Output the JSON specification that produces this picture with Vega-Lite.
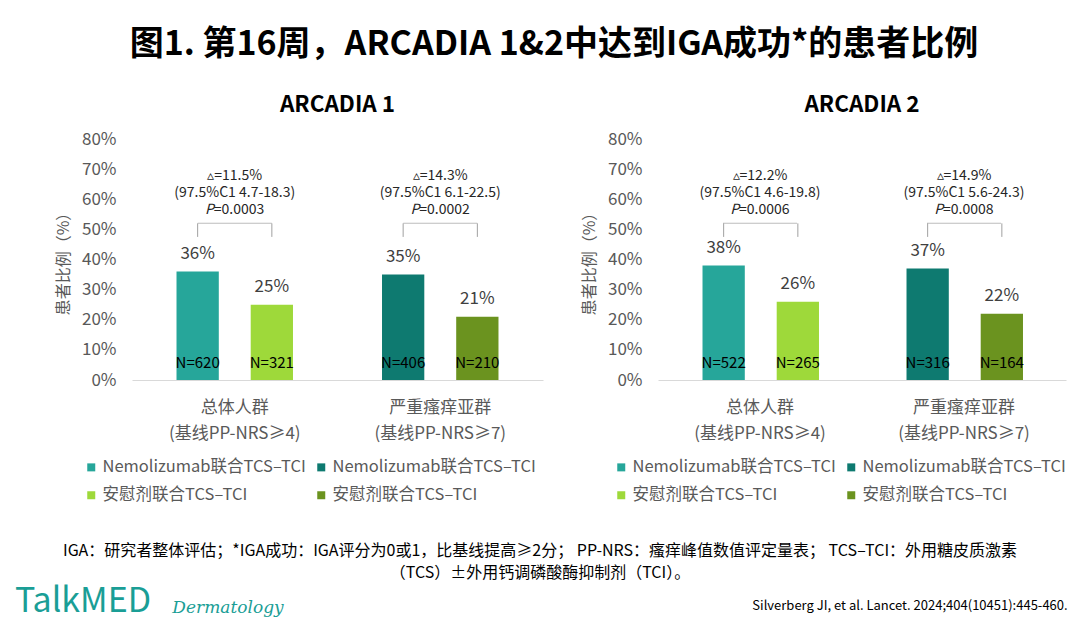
{
  "$schema": "https://vega.github.io/schema/vega-lite/v6.json",
  "padding": {"left": 8, "top": 27, "right": 8, "bottom": 0},
  "title": {
    "text": "图1. 第16周，ARCADIA 1&2中达到IGA成功*的患者比例",
    "fontSize": 34,
    "fontWeight": "bold",
    "color": "#000000",
    "anchor": "middle",
    "dx": 14,
    "offset": 32
  },
  "datasets": {
    "arcadia1": [
      {"group": "总体人群|(基线PP-NRS≥4)", "arm": "Nemolizumab", "series": "Nemolizumab联合TCS–TCI·总体", "rate": 0.36, "n": "N=620", "anno": "▵=11.5%\n(97.5%C1 4.7-18.3)", "p": "=0.0003"},
      {"group": "总体人群|(基线PP-NRS≥4)", "arm": "安慰剂", "series": "安慰剂联合TCS–TCI·总体", "rate": 0.25, "n": "N=321", "anno": "", "p": ""},
      {"group": "严重瘙痒亚群|(基线PP-NRS≥7)", "arm": "Nemolizumab", "series": "Nemolizumab联合TCS–TCI·严重", "rate": 0.35, "n": "N=406", "anno": "▵=14.3%\n(97.5%C1 6.1-22.5)", "p": "=0.0002"},
      {"group": "严重瘙痒亚群|(基线PP-NRS≥7)", "arm": "安慰剂", "series": "安慰剂联合TCS–TCI·严重", "rate": 0.21, "n": "N=210", "anno": "", "p": ""}
    ],
    "arcadia2": [
      {"group": "总体人群|(基线PP-NRS≥4)", "arm": "Nemolizumab", "series": "Nemolizumab联合TCS–TCI·总体", "rate": 0.38, "n": "N=522", "anno": "▵=12.2%\n(97.5%C1 4.6-19.8)", "p": "=0.0006"},
      {"group": "总体人群|(基线PP-NRS≥4)", "arm": "安慰剂", "series": "安慰剂联合TCS–TCI·总体", "rate": 0.26, "n": "N=265", "anno": "", "p": ""},
      {"group": "严重瘙痒亚群|(基线PP-NRS≥7)", "arm": "Nemolizumab", "series": "Nemolizumab联合TCS–TCI·严重", "rate": 0.37, "n": "N=316", "anno": "▵=14.9%\n(97.5%C1 5.6-24.3)", "p": "=0.0008"},
      {"group": "严重瘙痒亚群|(基线PP-NRS≥7)", "arm": "安慰剂", "series": "安慰剂联合TCS–TCI·严重", "rate": 0.22, "n": "N=164", "anno": "", "p": ""}
    ],
    "notes": [
      {"line": 1, "text": "IGA：研究者整体评估；*IGA成功：IGA评分为0或1，比基线提高≥2分； PP-NRS：瘙痒峰值数值评定量表； TCS–TCI：外用糖皮质激素"},
      {"line": 2, "text": "（TCS）±外用钙调磷酸酶抑制剂（TCI）。"}
    ]
  },
  "vconcat": [
    {
      "hconcat": [
        {"width": 9, "height": 241, "data": {"values": []}, "mark": "point"},
        {
          "title": {"text": "ARCADIA 1", "frame": "group"},
          "width": 411,
          "height": 241,
          "data": {"name": "arcadia1"},
          "encoding": {
            "x": {
              "field": "group", "type": "nominal", "sort": null,
              "scale": {"paddingInner": 0, "paddingOuter": 0},
              "axis": {"title": null, "labelExpr": "split(datum.label, '|')", "labelAngle": 0, "labelPadding": 19, "labelLineHeight": 26, "domain": true, "domainColor": "#d9d9d9"}
            },
            "y": {"field": "rate", "type": "quantitative", "scale": {"domain": [0, 0.8]},
              "axis": {"values": [0, 0.1, 0.2, 0.3, 0.4, 0.5, 0.6, 0.7, 0.8], "format": ".0%", "title": "患者比例（%）", "domain": false, "labelPadding": 16, "titlePadding": 10, "labelOverlap": false}}
          },
          "layer": [
            {
              "mark": {"type": "bar"},
              "encoding": {
                "xOffset": {"field": "arm", "type": "nominal", "sort": null, "scale": {"paddingInner": 0.43, "paddingOuter": 0.6}},
                "color": {"field": "series", "type": "nominal", "sort": null,
                  "scale": {"domain": ["Nemolizumab联合TCS–TCI·总体", "Nemolizumab联合TCS–TCI·严重", "安慰剂联合TCS–TCI·总体", "安慰剂联合TCS–TCI·严重"], "range": ["#26A69A", "#0E7A70", "#9ED93A", "#6B931F"]},
                  "legend": {"labelExpr": "split(datum.label, '·')[0]", "orient": "none", "legendX": -49, "legendY": 320}}
              }
            },
            {
              "mark": {"type": "text", "baseline": "bottom", "dy": -9, "fontSize": 17, "color": "#404040"},
              "encoding": {
                "xOffset": {"field": "arm", "type": "nominal", "sort": null, "scale": {"paddingInner": 0.43, "paddingOuter": 0.6}},
                "text": {"field": "rate", "type": "quantitative", "format": ".0%"}
              }
            },
            {
              "mark": {"type": "text", "baseline": "bottom", "dy": -9, "fontSize": 15, "color": "#000000"},
              "encoding": {
                "xOffset": {"field": "arm", "type": "nominal", "sort": null, "scale": {"paddingInner": 0.43, "paddingOuter": 0.6}},
                "y": {"datum": 0},
                "text": {"field": "n"}
              }
            },
            {
              "mark": {"type": "rule", "color": "#a0a0a0", "strokeWidth": 1},
              "encoding": {
                "xOffset": {"field": "arm", "type": "nominal", "sort": null, "scale": {"paddingInner": 0.43, "paddingOuter": 0.6}},
                "y": {"datum": 0.475},
                "y2": {"datum": 0.52}
              }
            },
            {
              "transform": [{"filter": "datum.anno != ''"}],
              "mark": {"type": "tick", "color": "#a0a0a0", "thickness": 1, "size": 74},
              "encoding": {"y": {"datum": 0.52}}
            },
            {
              "transform": [{"filter": "datum.anno != ''"}],
              "mark": {"type": "text", "baseline": "bottom", "dy": -40, "fontSize": 14, "lineHeight": 17, "lineBreak": "\n", "color": "#262626"},
              "encoding": {"y": {"datum": 0.52}, "text": {"field": "anno"}}
            },
            {
              "transform": [{"filter": "datum.anno != ''"}],
              "mark": {"type": "text", "baseline": "bottom", "align": "right", "dx": -21, "dy": -6, "fontSize": 14, "fontStyle": "italic", "color": "#262626"},
              "encoding": {"y": {"datum": 0.52}, "text": {"value": "P"}}
            },
            {
              "transform": [{"filter": "datum.anno != ''"}],
              "mark": {"type": "text", "baseline": "bottom", "align": "left", "dx": -21, "dy": -6, "fontSize": 14, "color": "#262626"},
              "encoding": {"y": {"datum": 0.52}, "text": {"field": "p"}}
            }
          ]
        },
        {
          "title": {"text": "ARCADIA 2", "frame": "group"},
          "width": 408,
          "height": 241,
          "data": {"name": "arcadia2"},
          "encoding": {
            "x": {
              "field": "group", "type": "nominal", "sort": null,
              "scale": {"paddingInner": 0, "paddingOuter": 0},
              "axis": {"title": null, "labelExpr": "split(datum.label, '|')", "labelAngle": 0, "labelPadding": 19, "labelLineHeight": 26, "domain": true, "domainColor": "#d9d9d9"}
            },
            "y": {"field": "rate", "type": "quantitative", "scale": {"domain": [0, 0.8]},
              "axis": {"values": [0, 0.1, 0.2, 0.3, 0.4, 0.5, 0.6, 0.7, 0.8], "format": ".0%", "title": "患者比例（%）", "domain": false, "labelPadding": 16, "titlePadding": 10, "labelOverlap": false}}
          },
          "layer": [
            {
              "mark": {"type": "bar"},
              "encoding": {
                "xOffset": {"field": "arm", "type": "nominal", "sort": null, "scale": {"paddingInner": 0.43, "paddingOuter": 0.6}},
                "color": {"field": "series", "type": "nominal", "sort": null,
                  "scale": {"domain": ["Nemolizumab联合TCS–TCI·总体", "Nemolizumab联合TCS–TCI·严重", "安慰剂联合TCS–TCI·总体", "安慰剂联合TCS–TCI·严重"], "range": ["#26A69A", "#0E7A70", "#9ED93A", "#6B931F"]},
                  "legend": {"labelExpr": "split(datum.label, '·')[0]", "orient": "none", "legendX": -45, "legendY": 320}}
              }
            },
            {
              "mark": {"type": "text", "baseline": "bottom", "dy": -9, "fontSize": 17, "color": "#404040"},
              "encoding": {
                "xOffset": {"field": "arm", "type": "nominal", "sort": null, "scale": {"paddingInner": 0.43, "paddingOuter": 0.6}},
                "text": {"field": "rate", "type": "quantitative", "format": ".0%"}
              }
            },
            {
              "mark": {"type": "text", "baseline": "bottom", "dy": -9, "fontSize": 15, "color": "#000000"},
              "encoding": {
                "xOffset": {"field": "arm", "type": "nominal", "sort": null, "scale": {"paddingInner": 0.43, "paddingOuter": 0.6}},
                "y": {"datum": 0},
                "text": {"field": "n"}
              }
            },
            {
              "mark": {"type": "rule", "color": "#a0a0a0", "strokeWidth": 1},
              "encoding": {
                "xOffset": {"field": "arm", "type": "nominal", "sort": null, "scale": {"paddingInner": 0.43, "paddingOuter": 0.6}},
                "y": {"datum": 0.475},
                "y2": {"datum": 0.52}
              }
            },
            {
              "transform": [{"filter": "datum.anno != ''"}],
              "mark": {"type": "tick", "color": "#a0a0a0", "thickness": 1, "size": 74},
              "encoding": {"y": {"datum": 0.52}}
            },
            {
              "transform": [{"filter": "datum.anno != ''"}],
              "mark": {"type": "text", "baseline": "bottom", "dy": -40, "fontSize": 14, "lineHeight": 17, "lineBreak": "\n", "color": "#262626"},
              "encoding": {"y": {"datum": 0.52}, "text": {"field": "anno"}}
            },
            {
              "transform": [{"filter": "datum.anno != ''"}],
              "mark": {"type": "text", "baseline": "bottom", "align": "right", "dx": -21, "dy": -6, "fontSize": 14, "fontStyle": "italic", "color": "#262626"},
              "encoding": {"y": {"datum": 0.52}, "text": {"value": "P"}}
            },
            {
              "transform": [{"filter": "datum.anno != ''"}],
              "mark": {"type": "text", "baseline": "bottom", "align": "left", "dx": -21, "dy": -6, "fontSize": 14, "color": "#262626"},
              "encoding": {"y": {"datum": 0.52}, "text": {"field": "p"}}
            }
          ]
        }
      ],
      "spacing": 38,
      "resolve": {"scale": {"color": "independent"}}
    },
    {
      "vconcat": [
        {
          "width": 1064,
          "height": 44,
          "data": {"name": "notes"},
          "mark": {"type": "text", "fontSize": 16, "color": "#000000"},
          "encoding": {
            "y": {"field": "line", "type": "ordinal", "axis": null},
            "text": {"field": "text"}
          }
        },
        {
          "hconcat": [
            {"width": 150, "height": 36, "data": {"values": [{"t": "TalkMED"}]}, "mark": {"type": "text", "fontSize": 34, "color": "#1A9E96"}, "encoding": {"text": {"field": "t"}}},
            {"width": 120, "height": 36, "data": {"values": [{"t": "Dermatology"}]}, "mark": {"type": "text", "fontSize": 17, "font": "DejaVu Serif", "fontStyle": "italic", "color": "#1A9E96", "dy": 6}, "encoding": {"text": {"field": "t"}}},
            {"width": 440, "height": 36, "data": {"values": []}, "mark": "point"},
            {"width": 324, "height": 36, "data": {"values": [{"t": "Silverberg JI, et al. Lancet. 2024;404(10451):445-460."}]}, "mark": {"type": "text", "fontSize": 13, "color": "#000000", "dy": 4}, "encoding": {"text": {"field": "t"}}}
          ],
          "spacing": 10
        }
      ],
      "spacing": 0
    }
  ],
  "spacing": 36,
  "config": {
    "font": "Noto Sans CJK SC",
    "view": {"stroke": null},
    "axis": {"grid": false, "ticks": false, "labelOverlap": false, "labelFontSize": 17, "labelColor": "#595959", "titleFontSize": 16, "titleFontWeight": "normal", "titleColor": "#595959", "labelFont": "Noto Sans CJK SC", "titleFont": "Noto Sans CJK SC"},
    "title": {"fontSize": 22.5, "fontWeight": "bold", "color": "#000000", "offset": 14, "font": "Noto Sans CJK SC"},
    "legend": {"direction": "horizontal", "columns": 2, "title": null, "symbolType": "square", "symbolSize": 64, "symbolStrokeWidth": 0, "labelFontSize": 16.5, "labelLimit": 0, "labelOffset": 3, "labelColor": "#595959", "labelFont": "Noto Sans CJK SC", "columnPadding": 7, "rowPadding": 11},
    "text": {"font": "Noto Sans CJK SC"}
  }
}
